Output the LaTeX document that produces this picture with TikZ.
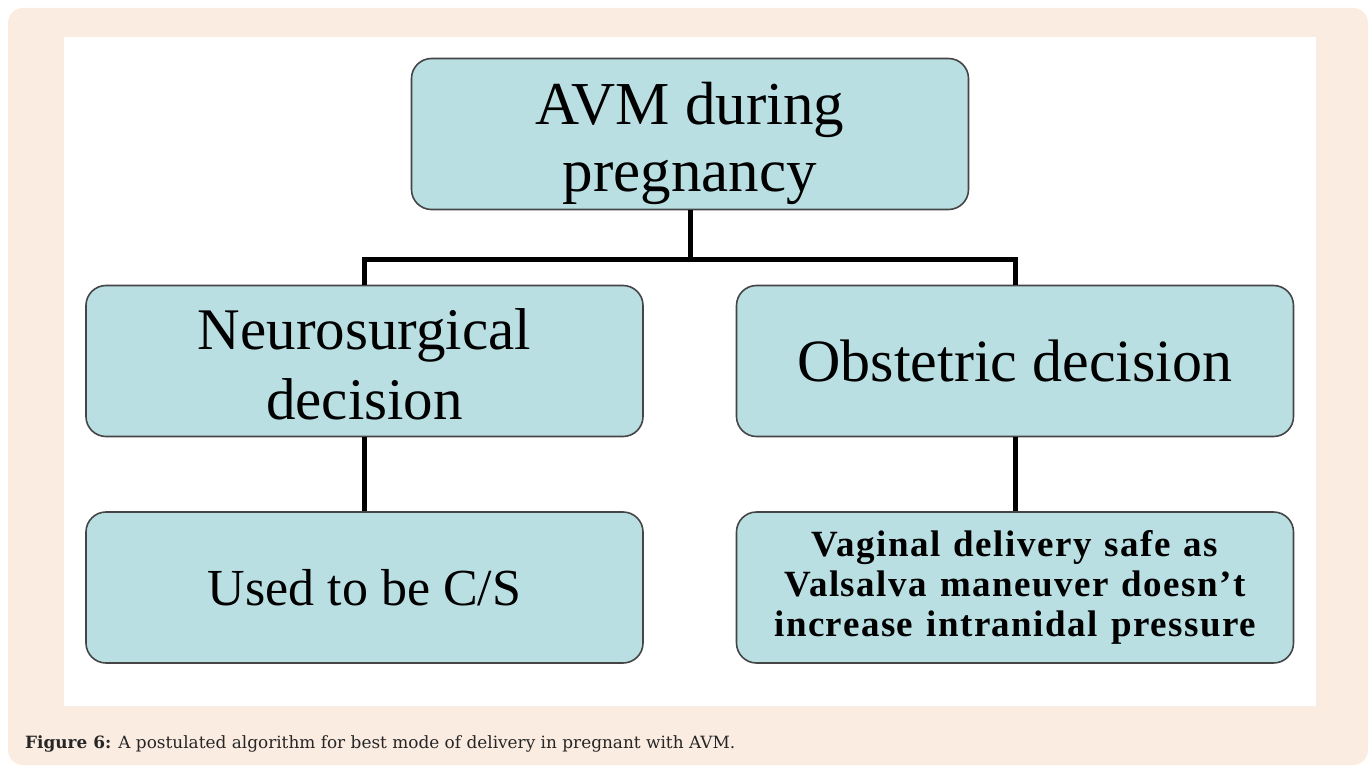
\documentclass[tikz,border=0pt]{standalone}
\usepackage{fontspec}
\setmainfont{Liberation Serif}
\newfontfamily\capfont{DejaVu Serif}
\usetikzlibrary{calc}
\definecolor{pagebg}{HTML}{FBECE2}
\definecolor{boxfill}{HTML}{B9DFE3}
\definecolor{boxline}{HTML}{454545}
\newcommand\widespace[1]{\spaceskip=#1\relax}
\tikzset{
  flowbox/.style={draw=boxline, line width=1.6pt, fill=boxfill, rounded corners=20pt,
    minimum width=557pt, minimum height=151pt, inner sep=0pt, align=center, text=black,
    font=\fontsize{60}{68}\selectfont},
  smallbox/.style={flowbox, font=\fontsize{37}{40}\selectfont\bfseries\addfontfeatures{LetterSpace=4}\widespace{13pt}},
  conn/.style={line width=5pt, black},
}
\begin{document}
\begin{tikzpicture}[x=1pt,y=-1pt]
\useasboundingbox (0,0) rectangle (1370,767);
\fill[pagebg, rounded corners=15pt] (8,8) rectangle (1368,765);
\fill[white] (64,37) rectangle (1316,706);
\node[flowbox, font=\fontsize{61}{67}\selectfont] (top) at (690,134) {\rule{0pt}{62pt}AVM during\\pregnancy};
\node[flowbox, font=\fontsize{59}{70}\selectfont] (neuro) at (364.5,361) {\rule{0pt}{48pt}Neurosurgical\\decision};
\node[flowbox, font=\fontsize{60}{68}\selectfont] (obst) at (1015,361) {Obstetric decision};
\node[flowbox, font=\fontsize{52}{60}\selectfont] (used) at (364.5,587.5) {Used to be C/S};
\node[smallbox] (vag) at (1015,587.5) {Vaginal delivery safe as\\Valsalva maneuver doesn’t\\increase intranidal pressure};
\coordinate (bar) at (690,260);
\draw[conn] (top.south) -- (top.south |- bar);
\draw[conn] (neuro.north) -- (neuro.north |- bar) -- (obst.north |- bar) -- (obst.north);
\draw[conn] (neuro.south) -- (used.north);
\draw[conn] (obst.south) -- (vag.north);
\node[anchor=base west, inner sep=0pt, text=black!85, font=\capfont\fontsize{16.9}{22}\selectfont] (cap) at (25,748)
  {\textbf{Figure 6:} A postulated algorithm for best mode of delivery in pregnant with AVM.};
\end{tikzpicture}
\end{document}
